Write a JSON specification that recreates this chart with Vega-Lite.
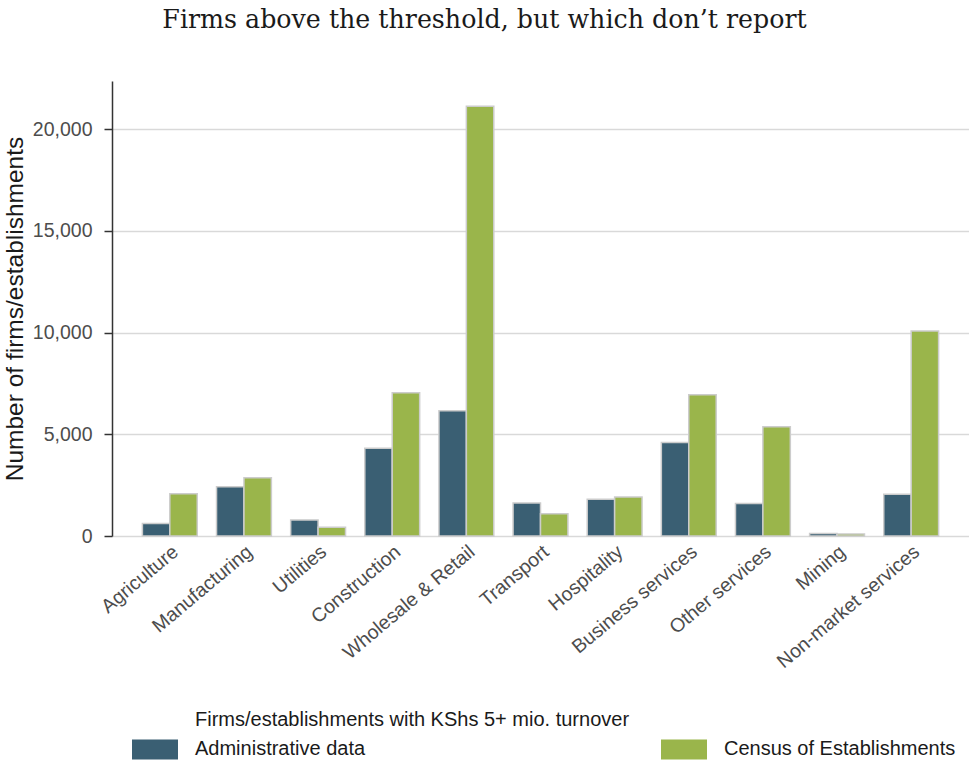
{
  "$schema": "https://vega.github.io/schema/vega-lite/v6.json",
  "description": "Firms above the threshold but not reporting, by sector: administrative data vs census of establishments",
  "autosize": {"type": "none"},
  "padding": {"left": 112, "top": 81, "right": 0, "bottom": 226},
  "width": 857,
  "height": 455,
  "background": "white",
  "title": {
    "text": "Firms above the threshold, but which don’t report",
    "font": "DejaVu Serif",
    "fontSize": 25.3,
    "fontWeight": "normal",
    "color": "#1a1a1a",
    "anchor": "middle",
    "dx": -56,
    "offset": 48
  },
  "config": {
    "view": {"stroke": null},
    "font": "Liberation Sans"
  },
  "data": {
    "values": [
      {"sector": "Agriculture", "source": "Administrative data", "firms": 620},
      {"sector": "Agriculture", "source": "Census of Establishments", "firms": 2080},
      {"sector": "Manufacturing", "source": "Administrative data", "firms": 2420},
      {"sector": "Manufacturing", "source": "Census of Establishments", "firms": 2860},
      {"sector": "Utilities", "source": "Administrative data", "firms": 790},
      {"sector": "Utilities", "source": "Census of Establishments", "firms": 430},
      {"sector": "Construction", "source": "Administrative data", "firms": 4310},
      {"sector": "Construction", "source": "Census of Establishments", "firms": 7040},
      {"sector": "Wholesale & Retail", "source": "Administrative data", "firms": 6160},
      {"sector": "Wholesale & Retail", "source": "Census of Establishments", "firms": 21130},
      {"sector": "Transport", "source": "Administrative data", "firms": 1625},
      {"sector": "Transport", "source": "Census of Establishments", "firms": 1100},
      {"sector": "Hospitality", "source": "Administrative data", "firms": 1810},
      {"sector": "Hospitality", "source": "Census of Establishments", "firms": 1920},
      {"sector": "Business services", "source": "Administrative data", "firms": 4600},
      {"sector": "Business services", "source": "Census of Establishments", "firms": 6950},
      {"sector": "Other services", "source": "Administrative data", "firms": 1600},
      {"sector": "Other services", "source": "Census of Establishments", "firms": 5370},
      {"sector": "Mining", "source": "Administrative data", "firms": 120},
      {"sector": "Mining", "source": "Census of Establishments", "firms": 100},
      {"sector": "Non-market services", "source": "Administrative data", "firms": 2050},
      {"sector": "Non-market services", "source": "Census of Establishments", "firms": 10080}
    ]
  },
  "mark": {"type": "bar", "stroke": "#cccccc", "strokeWidth": 1.5},
  "encoding": {
    "x": {
      "field": "sector",
      "type": "nominal",
      "sort": null,
      "title": null,
      "scale": {"paddingInner": 0.26, "paddingOuter": 0.41},
      "axis": {
        "domain": false,
        "ticks": false,
        "labelAngle": -40,
        "labelAlign": "right",
        "labelBaseline": "top",
        "labelPadding": 6,
        "labelFontSize": 19.5,
        "labelColor": "#4d4d4d",
        "labelLimit": 300
      }
    },
    "xOffset": {"field": "source", "type": "nominal", "scale": {"paddingInner": 0}},
    "y": {
      "field": "firms",
      "type": "quantitative",
      "title": "Number of firms/establishments",
      "scale": {"domain": [0, 22375], "nice": false},
      "axis": {
        "values": [0, 5000, 10000, 15000, 20000],
        "format": ",d",
        "domainColor": "#333333",
        "domainWidth": 1.5,
        "tickColor": "#333333",
        "tickSize": 8,
        "tickWidth": 1.5,
        "gridColor": "#d9d9d9",
        "gridWidth": 1.5,
        "labelFontSize": 19.5,
        "labelColor": "#4d4d4d",
        "labelPadding": 12,
        "titleFontSize": 24.5,
        "titleFontWeight": "normal",
        "titleColor": "#1a1a1a",
        "titlePadding": 5,
        "titleLimit": 500
      }
    },
    "color": {
      "field": "source",
      "type": "nominal",
      "scale": {
        "domain": ["Administrative data", "Census of Establishments"],
        "range": ["#3a5f73", "#9ab54b"]
      },
      "legend": {
        "title": "Firms/establishments with KShs 5+ mio. turnover",
        "orient": "none",
        "legendX": 83,
        "legendY": 629,
        "direction": "horizontal",
        "columns": 2,
        "columnPadding": 295,
        "titleFontSize": 20,
        "titleFontWeight": "normal",
        "titleColor": "#1a1a1a",
        "titlePadding": -4,
        "titleLimit": 800,
        "labelFontSize": 20,
        "labelColor": "#1a1a1a",
        "labelOffset": 17,
        "labelLimit": 400,
        "symbolOffset": -63,
        "symbolType": "M-1,-0.435H1V0.435H-1Z",
        "symbolSize": 2116,
        "symbolStrokeWidth": 0,
        "symbolOpacity": 1
      }
    }
  }
}
